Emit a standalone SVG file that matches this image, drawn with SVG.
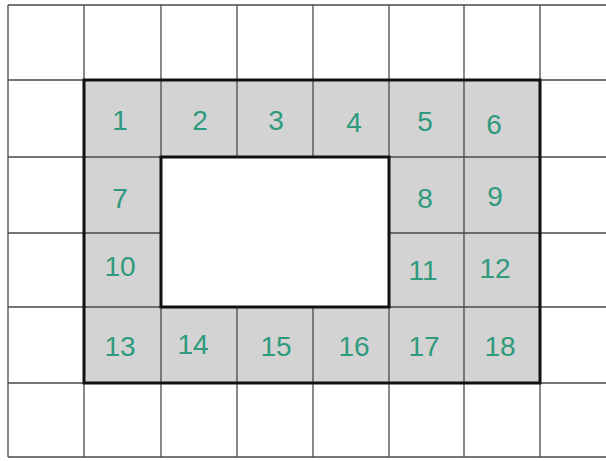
<svg xmlns="http://www.w3.org/2000/svg" width="606" height="461" viewBox="0 0 606 461">
<style>
.g{stroke:#4a4a4a;stroke-width:1.3;fill:none}
.b{stroke:#111;stroke-width:3;fill:none}
.n{font-family:"Liberation Sans",Arial,sans-serif;font-size:28px;fill:#2f9a7c;text-anchor:middle}
</style>
<rect width="606" height="461" fill="#fff"/>
<rect x="84" y="80" width="456" height="303" fill="#d3d3d3"/>
<rect x="161" y="157" width="228" height="150" fill="#fff"/>
<g id="grid" class="g">
<path d="M8 5H606M8 80H606M8 157H606M8 233H606M8 307H606M8 383H606M8 457H606"/>
<path d="M8 5V457M84 5V457M161 5V457M237 5V457M313 5V457M389 5V457M464 5V457M540 5V457"/>
</g>
<rect x="161" y="157" width="228" height="150" fill="#fff"/>
<g id="frame" class="b">
<rect x="84" y="80" width="456" height="303"/>
<rect x="161" y="157" width="228" height="150"/>
</g>
<g id="labels" class="n">
<text x="120" y="130">1</text>
<text x="200" y="130">2</text>
<text x="276" y="130">3</text>
<text x="354" y="132">4</text>
<text x="425" y="131">5</text>
<text x="494" y="134">6</text>
<text x="120" y="208">7</text>
<text x="425" y="208">8</text>
<text x="495" y="206">9</text>
<text x="120" y="276">10</text>
<text x="423" y="280">11</text>
<text x="495" y="278">12</text>
<text x="120" y="356">13</text>
<text x="193" y="354">14</text>
<text x="276" y="356">15</text>
<text x="354" y="356">16</text>
<text x="424" y="356">17</text>
<text x="500" y="356">18</text>
</g>
</svg>
